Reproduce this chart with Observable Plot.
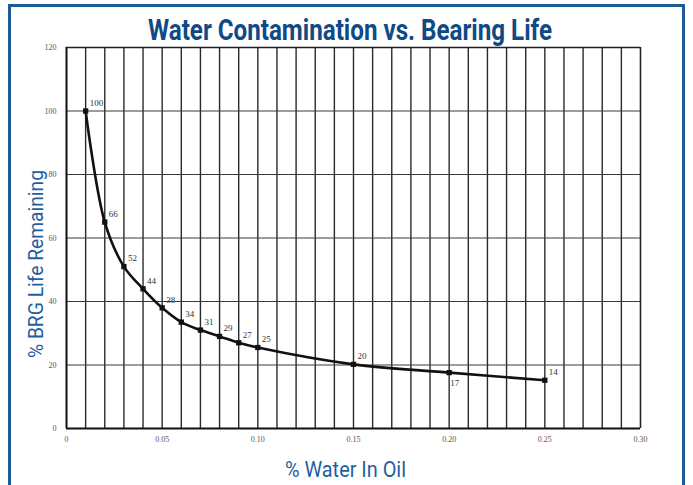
<!DOCTYPE html>
<html>
<head>
<meta charset="utf-8">
<script src="https://cdn.jsdelivr.net/npm/d3@7"></script>
<script src="https://cdn.jsdelivr.net/npm/@observablehq/plot@0.6"></script>
<style>
  html, body { margin: 0; padding: 0; background: #fff; }
  #wrap { position: relative; width: 693px; height: 485px; overflow: hidden; background: #fff; }
  #frame { position: absolute; left: 8px; top: 4px; width: 677px; height: 500px; border: 3px solid #1c5a98; box-sizing: border-box; pointer-events: none; }
  #plot { position: absolute; left: 0; top: 0; }
</style>
</head>
<body>
<div id="wrap">
  <div id="plot"></div>
  <div id="frame"></div>
</div>
<script>
// Data
const waterPct = [0.01, 0.02, 0.03, 0.04, 0.05, 0.06, 0.07, 0.08, 0.09, 0.10, 0.15, 0.20, 0.25];
const lifeRemaining = [100, 65, 51, 44, 38, 33.5, 31, 29, 27, 25.5, 20.2, 17.6, 15.2];
const pointLabels = ["100", "66", "52", "44", "38", "34", "31", "29", "27", "25", "20", "17", "14"];
const xTicks = [0, 0.05, 0.10, 0.15, 0.20, 0.25, 0.30];
const xTickLabels = ["0", "0.05", "0.10", "0.15", "0.20", "0.25", "0.30"];
const yTicks = [0, 20, 40, 60, 80, 100, 120];
const yTickLabels = ["0", "20", "40", "60", "80", "100", "120"];
const xGrid = [0.01,0.02,0.03,0.04,0.05,0.06,0.07,0.08,0.09,0.10,0.11,0.12,0.13,0.14,0.15,0.16,0.17,0.18,0.19,0.20,0.21,0.22,0.23,0.24,0.25,0.26,0.27,0.28,0.29];
const yGrid = [20, 40, 60, 80, 100];
const titleText = "Water Contamination vs. Bearing Life";
const xLabelText = "% Water In Oil";
const yLabelText = "% BRG Life Remaining";

const pts = waterPct.map((x, i) => ({x, y: lifeRemaining[i], label: pointLabels[i], below: pointLabels[i] === "17"}));

const serif = "'Liberation Serif', 'DejaVu Serif', serif";
const sans = "Roboto, 'Liberation Sans', sans-serif";

const chart = Plot.plot({
  width: 693,
  height: 485,
  marginLeft: 66,
  marginRight: 53,
  marginTop: 47,
  marginBottom: 57,
  x: {domain: [0, 0.30]},
  y: {domain: [0, 120]},
  style: {background: "transparent"},
  marks: [
    Plot.ruleX(xGrid, {stroke: "#2a2a2a", strokeWidth: 1.4}),
    Plot.ruleY(yGrid, {stroke: "#3a3a3a", strokeWidth: 1.1}),
    Plot.ruleY([120], {stroke: "#222", strokeWidth: 1.6}),
    Plot.ruleX([0.30], {stroke: "#222", strokeWidth: 1.6}),
    Plot.ruleY([0], {stroke: "#111", strokeWidth: 2}),
    Plot.ruleX([0], {stroke: "#111", strokeWidth: 2}),
    Plot.axisX(xTicks, {tickSize: 0, tickPadding: 8, tickFormat: (d, i) => xTickLabels[i], fontFamily: serif, fontSize: 8, fill: "#555", label: null}),
    Plot.axisY(yTicks, {tickSize: 0, tickPadding: 10, tickFormat: (d, i) => yTickLabels[i], fontFamily: serif, fontSize: 8, fill: "#555", label: null}),
    Plot.line(pts, {x: "x", y: "y", curve: "catmull-rom", stroke: "#111", strokeWidth: 2.6}),
    Plot.dot(pts, {x: "x", y: "y", symbol: "square", r: 3, fill: "#111"}),
    Plot.text(pts.filter(d => !d.below), {x: "x", y: "y", text: "label", dx: 4, dy: -8, textAnchor: "start", fontFamily: serif, fontSize: 9, fill: "#333"}),
    Plot.text(pts.filter(d => d.below), {x: "x", y: "y", text: "label", dx: 1, dy: 10, textAnchor: "start", fontFamily: serif, fontSize: 9, fill: "#333"})
  ]
});
document.getElementById("plot").appendChild(chart);

// Title and axis labels, fitted to the reference widths
const svg = d3.select(chart);
svg.append("text")
  .attr("x", 148).attr("y", 40)
  .attr("text-anchor", "start")
  .attr("textLength", 404).attr("lengthAdjust", "spacingAndGlyphs")
  .attr("font-family", sans).attr("font-weight", "bold").attr("font-size", 30)
  .attr("fill", "#0f4a86")
  .text(titleText);
svg.append("text")
  .attr("x", 285).attr("y", 477)
  .attr("text-anchor", "start")
  .attr("textLength", 121).attr("lengthAdjust", "spacingAndGlyphs")
  .attr("font-family", sans).attr("font-size", 22)
  .attr("fill", "#1f5f9e")
  .text(xLabelText);
svg.append("text")
  .attr("transform", "translate(43,358) rotate(-90)")
  .attr("x", 0).attr("y", 0)
  .attr("text-anchor", "start")
  .attr("textLength", 188).attr("lengthAdjust", "spacingAndGlyphs")
  .attr("font-family", sans).attr("font-size", 21)
  .attr("fill", "#1f5f9e")
  .text(yLabelText);
</script>
</body>
</html>
